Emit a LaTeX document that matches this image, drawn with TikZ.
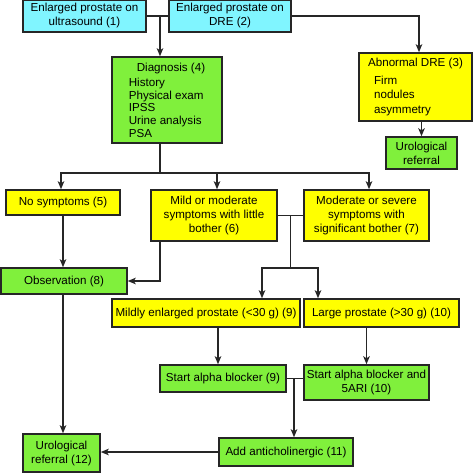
\documentclass[tikz,border=0pt]{standalone}
\usepackage{fontspec}
\setmainfont{Liberation Sans}
\definecolor{bphcyan}{RGB}{128,245,255}
\definecolor{bphyellow}{RGB}{255,255,0}
\definecolor{bphgreen}{RGB}{128,240,60}
\usetikzlibrary{arrows.meta, positioning, calc}

\begin{document}
\begin{tikzpicture}[x=1pt, y=-1pt,
  box/.style={draw=black!85, line width=1.5pt, inner sep=2pt, align=center, font=\fontsize{11.6}{14}\selectfont},
  cyanbox/.style={box, fill=bphcyan},
  yellowbox/.style={box, fill=bphyellow},
  greenbox/.style={box, fill=bphgreen},
  link/.style={line width=1.4pt, draw=black!85},
  arrow/.style={link, -{Stealth[length=8pt, width=6.5pt, inset=2pt]}}]
  \useasboundingbox (0,0) rectangle (473,473);

  % top row
  \node[cyanbox, minimum width=123, minimum height=32] (ultra) at (84.5,16) {Enlarged prostate on\\ultrasound (1)};
  \node[cyanbox, minimum width=122, minimum height=32] (dre) at (230,16) {Enlarged prostate on\\DRE (2)};
  \node[greenbox, minimum width=110, minimum height=86, align=left, font=\fontsize{11.6}{12.6}\selectfont] (diag) at (167,100)
    {\hspace*{8pt}Diagnosis (4)\\[3pt]History\\Physical exam\\IPSS\\Urine analysis\\PSA};
  \node[yellowbox, minimum width=113, minimum height=68, align=left, font=\fontsize{11.6}{14.5}\selectfont] (abn) at (415.5,87)
    {Abnormal DRE (3)\\[3pt]\hspace*{6pt}Firm\\\hspace*{6pt}nodules\\\hspace*{6pt}asymmetry};
  \node[greenbox, minimum width=71, minimum height=32] (refer) at (421.5,153) {Urological\\referral};

  % symptoms
  \node[yellowbox, minimum width=114, minimum height=25] (nosym) at (63,202.5) {No symptoms (5)};
  \node[yellowbox, minimum width=126, minimum height=51] (mild) at (214,215.5) {Mild or moderate\\symptoms with little\\bother (6)};
  \node[yellowbox, minimum width=125, minimum height=51] (severe) at (366.5,215.5) {Moderate or severe\\symptoms with\\significant bother (7)};
  \node[greenbox, minimum width=126, minimum height=26] (obs) at (64,281) {Observation (8)};

  % prostate size and treatment
  \node[yellowbox, minimum width=188, minimum height=28] (small) at (206,313) {Mildly enlarged prostate (<30 g) (9)};
  \node[yellowbox, minimum width=155, minimum height=28] (large) at (381.5,313) {Large prostate (>30 g) (10)};
  \node[greenbox, minimum width=126, minimum height=27] (alpha) at (223,378.5) {Start alpha blocker (9)};
  \node[greenbox, minimum width=125, minimum height=35] (combo) at (366.5,382.5) {Start alpha blocker and\\5ARI (10)};
  \node[greenbox, minimum width=134, minimum height=28] (anti) at (286,452) {Add anticholinergic (11)};
  \node[greenbox, minimum width=77, minimum height=38] (urol) at (61.5,453) {Urological\\referral (12)};

  % junctions
  \coordinate (jtop) at (160,16);
  \coordinate (jdiag) at (160,173);
  \coordinate (jsym) at (290.5,215.5);
  \coordinate (jsize) at (290.5,268);
  \coordinate (jtreat) at (294,378.5);

  % connectors
  \draw[link] (ultra.east) -- (dre.west);
  \draw[arrow] (jtop) -- (jtop |- diag.north);
  \draw[arrow] (dre.east) -| ([xshift=3.5pt]abn.north);
  \draw[arrow] (refer.north |- abn.south) -- (refer.north);

  \draw[link] (jtop |- diag.south) -- (jdiag);
  \draw[arrow] (jdiag) -| ([xshift=-2pt]nosym.north);
  \draw[arrow] (jdiag) -| ([xshift=3pt]mild.north);
  \draw[arrow] (jdiag) -| ([xshift=2.5pt]severe.north);

  \draw[arrow] (nosym.south) -- (nosym.south |- obs.north);
  \draw[arrow] ([xshift=-54pt]mild.south) |- (obs.east);
  \draw[arrow] ([xshift=-1pt]obs.south) -- ([xshift=-1pt]obs.south |- urol.north);

  \draw[link] (mild.east) -- (severe.west);
  \draw[link] (jsym) -- (jsize);
  \draw[arrow] (jsize) -| ([xshift=56pt]small.north);
  \draw[arrow] (jsize) -| ([xshift=-63.5pt]large.north);

  \draw[arrow] ([xshift=12pt]small.south) -- ([xshift=12pt]small.south |- alpha.north);
  \draw[arrow] (combo.north |- large.south) -- (combo.north);
  \draw[link] (alpha.east) -- (alpha.east -| combo.west);
  \draw[arrow] (jtreat) -- (jtreat |- anti.north);
  \draw[arrow] (anti.west) -- (anti.west -| urol.east);
\end{tikzpicture}
\end{document}
